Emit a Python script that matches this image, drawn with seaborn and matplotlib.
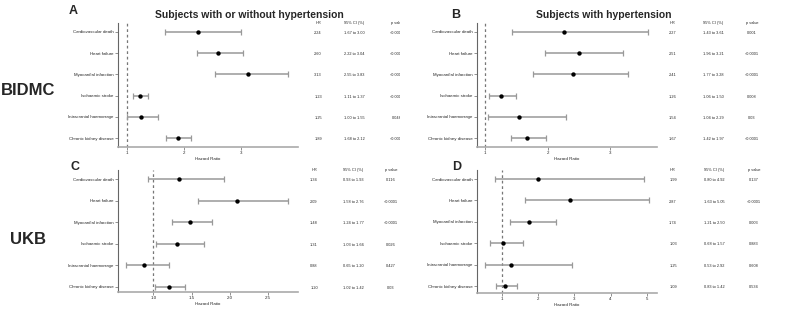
import matplotlib
matplotlib.use("Agg")
import matplotlib.pyplot as plt
from matplotlib.transforms import Bbox, TransformedBbox, blended_transform_factory
import seaborn as sns
import pandas as pd

outcomes = ["Cardiovascular death", "Heart failure", "Myocardial infarction",
            "Ischaemic stroke", "Intracranial haemorrage", "Chronic kidney disease"]

# A: BIDMC, subjects with or without hypertension
a_hr = [2.24, 2.60, 3.13, 1.23, 1.25, 1.89]
a_lo = [1.67, 2.22, 2.55, 1.11, 1.00, 1.68]
a_hi = [3.00, 3.04, 3.83, 1.37, 1.55, 2.12]
a_p = ["<0.0001", "<0.0001", "<0.0001", "<0.0001", "0.048", "<0.0001"]

# B: BIDMC, subjects with hypertension
b_hr = [2.27, 2.51, 2.41, 1.26, 1.54, 1.67]
b_lo = [1.43, 1.96, 1.77, 1.06, 1.04, 1.42]
b_hi = [3.61, 3.21, 3.28, 1.50, 2.29, 1.97]
b_p = ["0.001", "<0.0001", "<0.0001", "0.008", "0.03", "<0.0001"]

# C: UKB, subjects with or without hypertension
c_hr = [1.34, 2.09, 1.48, 1.31, 0.88, 1.20]
c_lo = [0.93, 1.58, 1.24, 1.03, 0.65, 1.02]
c_hi = [1.93, 2.76, 1.77, 1.66, 1.20, 1.42]
c_p = ["0.116", "<0.0001", "<0.0001", "0.026", "0.427", "0.03"]

# D: UKB, subjects with hypertension
d_hr = [1.99, 2.87, 1.74, 1.03, 1.25, 1.09]
d_lo = [0.80, 1.63, 1.21, 0.68, 0.53, 0.83]
d_hi = [4.92, 5.05, 2.50, 1.57, 2.92, 1.42]
d_p = ["0.137", "<0.0001", "0.003", "0.883", "0.608", "0.534"]

sns.set_style("white")
plt.rcParams["font.family"] = ["Liberation Sans", "DejaVu Sans"]

W, H = 800, 310
fig = plt.figure(figsize=(8, 3.1), dpi=100)


def px_axes(left, top, right, bottom):
    return fig.add_axes([left / W, 1 - bottom / H, (right - left) / W, (bottom - top) / H])


def forest(ax, hr, lo, hi, pvals, xlim, ylim, xticks, xticklabels, cols, clip=False):
    df = pd.DataFrame({"outcome": outcomes, "hr": hr, "lo": lo, "hi": hi})
    ax.errorbar(df["hr"], df["outcome"],
                xerr=[df["hr"] - df["lo"], df["hi"] - df["hr"]],
                fmt="none", ecolor="#999999", elinewidth=1.1, capsize=2.2, capthick=0.9)
    sns.scatterplot(data=df, x="hr", y="outcome", ax=ax, color="black", s=10,
                    edgecolor="black", linewidth=0, zorder=3)
    ax.axvline(1, color="#777777", lw=0.9, ls=(0, (2.2, 2.2)), zorder=1)
    ax.set_xlim(*xlim)
    ax.set_ylim(*ylim)
    ax.set_xticks(xticks)
    ax.set_xticklabels(xticklabels)
    ax.set_xlabel("Hazard Ratio", fontsize=3.2, labelpad=1)
    ax.set_ylabel("")
    ax.tick_params(axis="both", labelsize=3.2, length=2, width=0.5, pad=1,
                   color="#666666", left=True, bottom=True)
    sns.despine(ax=ax)
    ax.spines["left"].set_color("#666666")
    ax.spines["left"].set_linewidth(0.8)
    ax.spines["bottom"].set_color("#aaaaaa")
    ax.spines["bottom"].set_linewidth(1.2)

    # table of HR / CI / p values to the right of the panel
    tr = blended_transform_factory(fig.transFigure, ax.transData)
    clipbox = TransformedBbox(Bbox([[0, 0], [0.5, 1]]), fig.transFigure)
    headers = ["HR", "95% CI (%)", "p value"]
    for x, h in zip(cols, headers):
        t = fig.text(x / W, -0.4, h, transform=tr, ha="center", va="center", fontsize=2.8)
        if clip:
            t.set_clip_box(clipbox)
            t.set_clip_on(True)
    for i in range(len(outcomes)):
        vals = [f"{hr[i]:.2f}", f"{lo[i]:.2f} to {hi[i]:.2f}", pvals[i]]
        for x, v in zip(cols, vals):
            t = fig.text(x / W, i + 0.05, v, transform=tr, ha="center", va="center", fontsize=2.8)
            if clip:
                t.set_clip_box(clipbox)
                t.set_clip_on(True)


axA = px_axes(118, 23, 298, 147)
forest(axA, a_hr, a_lo, a_hi, a_p, (0.84, 4.0), (5.42, -0.42),
       [1, 2, 3], ["1", "2", "3"], [318, 354, 397], clip=True)

axB = px_axes(477, 23, 657, 147)
forest(axB, b_hr, b_lo, b_hi, b_p, (0.87, 3.75), (5.42, -0.42),
       [1, 2, 3], ["1", "2", "3"], [673, 713, 752])

axC = px_axes(118, 170, 298, 292)
forest(axC, c_hr, c_lo, c_hi, c_p, (0.54, 2.89), (5.25, -0.42),
       [1.0, 1.5, 2.0, 2.5], ["1.0", "1.5", "2.0", "2.5"], [314, 353, 391], clip=True)

axD = px_axes(477, 170, 657, 293)
forest(axD, d_hr, d_lo, d_hi, d_p, (0.31, 5.28), (5.32, -0.42),
       [1, 2, 3, 4, 5], ["1", "2", "3", "4", "5"], [673, 714, 754])

fig.text(249 / W, 1 - 15 / H, "Subjects with or without hypertension",
         ha="center", va="center", fontsize=7.5, fontweight="bold")
fig.text(604 / W, 1 - 15 / H, "Subjects with hypertension",
         ha="center", va="center", fontsize=7.5, fontweight="bold")

for lab, x, y in [("A", 73, 11), ("B", 456, 15), ("C", 75, 167), ("D", 457, 167)]:
    fig.text(x / W, 1 - y / H, lab, ha="center", va="center", fontsize=9, fontweight="bold")

fig.text(28 / W, 1 - 91 / H, "BIDMC", ha="center", va="center", fontsize=12, fontweight="bold")
fig.text(28 / W, 1 - 239 / H, "UKB", ha="center", va="center", fontsize=12, fontweight="bold")

fig.savefig("out.png", dpi=100)
